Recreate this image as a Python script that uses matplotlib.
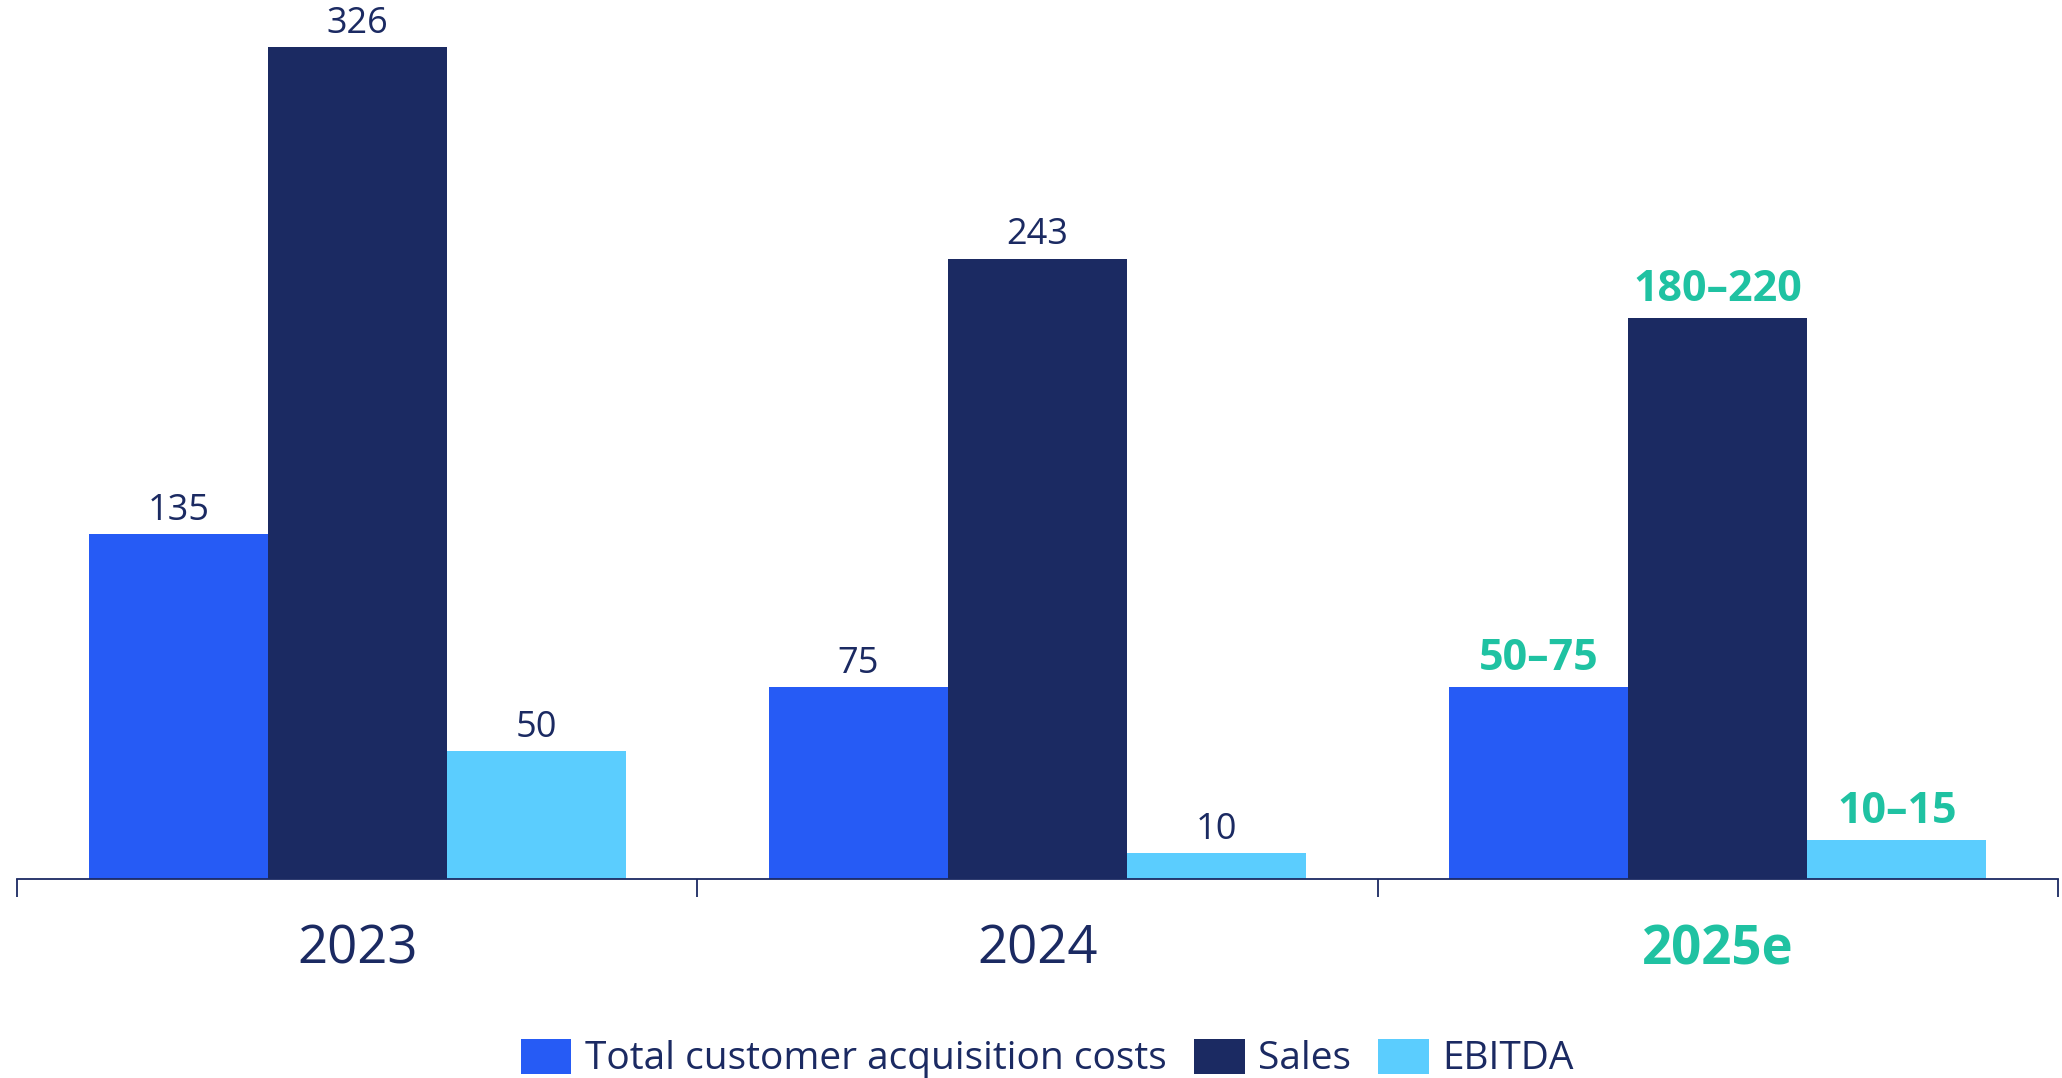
import numpy as np
import matplotlib as mpl
mpl.use('Agg')
import matplotlib.pyplot as plt
from matplotlib.patches import Patch

years = ['2023', '2024', '2025e']
series = ['Total customer acquisition costs', 'Sales', 'EBITDA']

# bar heights; the 2025 outlook is drawn at the top of its range
cac = [135, 75, 75]
sales = [326, 243, 220]
ebitda = [50, 10, 15]

cac_labels = ['135', '75', '50–75']
sales_labels = ['326', '243', '180–220']
ebitda_labels = ['50', '10', '10–15']

navy = '#1B2A62'
blue = '#265BF5'
light = '#5BCDFE'
green = '#1FC2A2'
colors = [blue, navy, light]

plt.rcParams['font.family'] = ['Open Sans', 'DejaVu Sans']

fig = plt.figure(figsize=(20.62, 10.78), dpi=100)
ax = fig.add_axes([17/2062, 0.185, (2058-17)/2062, 0.815])

x = np.arange(len(years))
w = 0.263
values = [cac, sales, ebitda]
labels = [cac_labels, sales_labels, ebitda_labels]

for i, (vals, labs, c) in enumerate(zip(values, labels, colors)):
    xs = x + (i - 1) * w
    ax.bar(xs, vals, width=w, color=c, zorder=2)
    for j, (xx, v, lab) in enumerate(zip(xs, vals, labs)):
        estimate = years[j].endswith('e')
        ax.annotate(lab, xy=(xx, v), xytext=(0, 5 if estimate else 4),
                    textcoords='offset points', ha='center', va='bottom',
                    fontsize=31 if estimate else 26,
                    fontweight='bold' if estimate else 'normal',
                    color=green if estimate else navy)

ax.set_xlim(-0.5, 2.5)
ax.set_ylim(0, 344.5)

for s in ['top', 'left', 'right']:
    ax.spines[s].set_visible(False)
ax.spines['bottom'].set_color(navy)
ax.spines['bottom'].set_linewidth(1.3)
ax.set_yticks([])

# year labels at group centres, separators at group edges
ax.set_xticks(x)
ax.set_xticklabels(years)
ax.tick_params(axis='x', which='major', length=0, pad=32, labelsize=38, labelcolor=navy)
ax.set_xticks([-0.5, 0.5, 1.5, 2.5], minor=True)
ax.tick_params(axis='x', which='minor', length=13, width=1.3, color=navy, direction='out')
for t in ax.get_xticklabels():
    if t.get_text().endswith('e'):
        t.set_color(green)
        t.set_fontweight('bold')

handles = [Patch(facecolor=c, edgecolor='none') for c in colors]
leg = fig.legend(handles, series, loc='center', bbox_to_anchor=(0.508, 0.018),
                 ncol=3, frameon=False, fontsize=28, handlelength=1.3,
                 handleheight=1.0, handletextpad=0.35, columnspacing=0.7,
                 borderpad=0, borderaxespad=0)
for t in leg.get_texts():
    t.set_color(navy)

fig.savefig('out.png', dpi=100)
